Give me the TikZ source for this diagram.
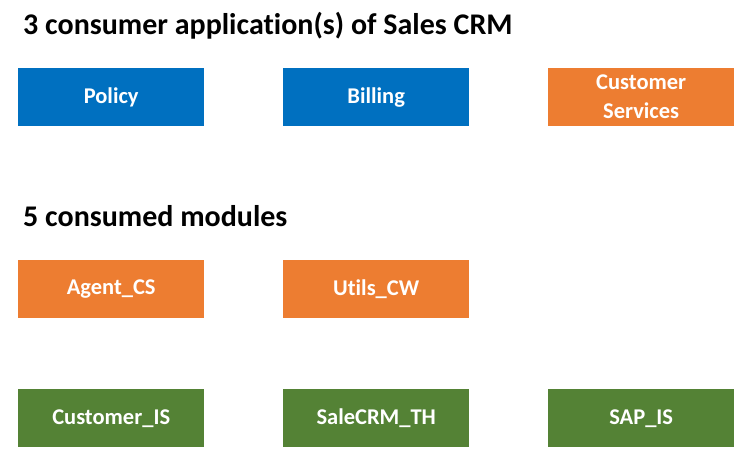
\documentclass[tikz,border=0pt]{standalone}
\usepackage{fontspec}
\setmainfont{Carlito}[Ligatures=CommonOff]
\definecolor{cblue}{HTML}{0070C0}
\definecolor{corange}{HTML}{ED7D31}
\definecolor{cgreen}{HTML}{548235}
\begin{document}
\begin{tikzpicture}[x=1pt,y=-1pt,
  box/.style={minimum width=186pt,minimum height=58pt,inner sep=0pt,text=white,font=\fontsize{22.5}{29}\selectfont\bfseries,align=center,anchor=north west},
  title/.style={anchor=base west,inner sep=0pt,font=\fontsize{30}{34}\selectfont\bfseries}]
\useasboundingbox (0,0) rectangle (750,465);
\node[title] (t1) at (23,35) {3 consumer application(s) of Sales CRM};
\node[box,fill=cblue] (policy) at (18,68) {Policy};
\node[box,fill=cblue] (billing) at (283,68) {Billing};
\node[box,fill=corange] (cs) at (548,68) {Customer\\Services};
\node[title] (t2) at (23,227) {5 consumed modules};
\node[box,fill=corange] (agent) at (18,260) {Agent\_CS};
\node[box,fill=corange] (utils) at (283,260) {Utils\_CW};
\node[box,fill=cgreen] (cust) at (18,389) {Customer\_IS};
\node[box,fill=cgreen] (sale) at (283,389) {SaleCRM\_TH};
\node[box,fill=cgreen] (sap) at (548,389) {SAP\_IS};
\end{tikzpicture}
\end{document}
